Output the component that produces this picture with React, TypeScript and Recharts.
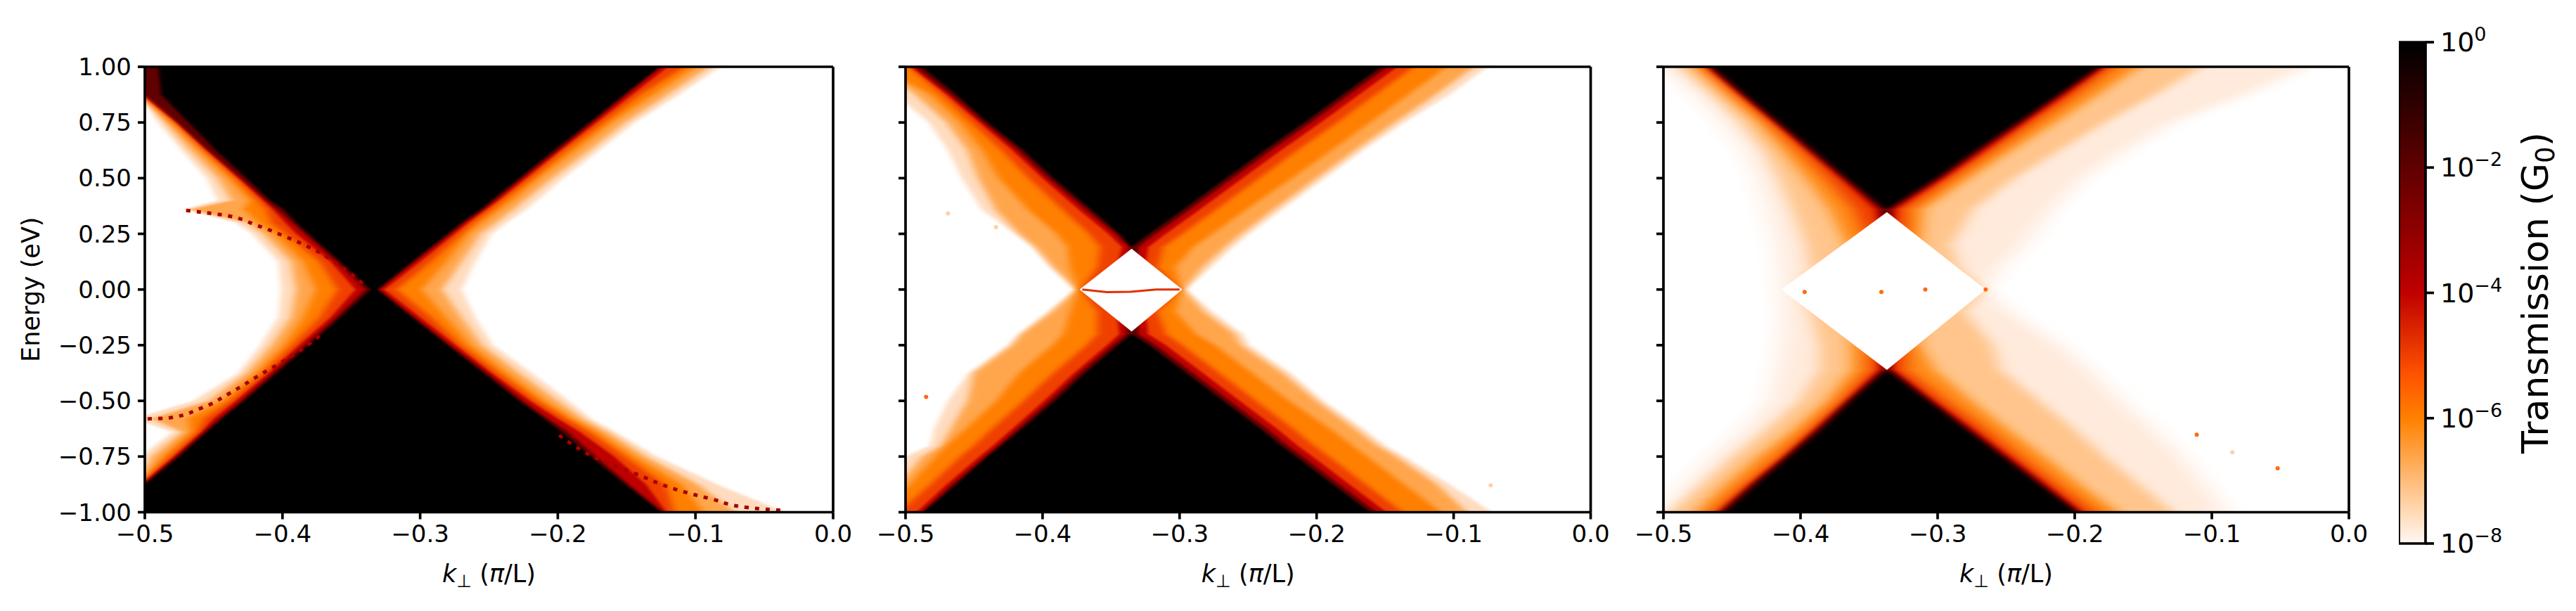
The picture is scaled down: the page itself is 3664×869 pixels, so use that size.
import React from 'react';
import { ComposedChart, Area, Line, Bar, XAxis, YAxis, ReferenceLine } from 'recharts';

const kTicks = [-0.5, -0.4, -0.3, -0.2, -0.1, 0];
const energyTicks = [-1, -0.75, -0.5, -0.25, 0, 0.25, 0.5, 0.75, 1];
const barTicks = [-8, -6, -4, -2, 0];
// Contour levels of the transmission, from faint to opaque
const levelColors = ['#ffdcc0', '#ffa64d', '#ff7f00', '#ef4000', '#bf0000', '#600000', '#000000'];
const softLevelColors = ['#ffeadb', '#ffc58c', '#ff8a14', '#ef4000', '#bf0000', '#600000', '#000000'];
const levelBlur = ['softC', 'softB', 'softB', 'softB', 'softA', 'softA', 'softA'];

// ---- panel 1: rows of energy; left edges go outer->inner, right edges inner->outer
const p1Energy = [1, 0.875, 0.75, 0.625, 0.5, 0.4, 0.36, 0.3, 0.25, 0.125, 0, -0.125, -0.25, -0.375, -0.5, -0.58, -0.64, -0.75, -0.875, -1];
const p1Left = [
  [-0.52, -0.52, -0.52, -0.52, -0.52, -0.51, -0.49],
  [-0.503, -0.503, -0.503, -0.502, -0.502, -0.5, -0.488],
  [-0.49, -0.485, -0.481, -0.478, -0.477, -0.476, -0.468],
  [-0.473, -0.467, -0.46, -0.457, -0.455, -0.454, -0.448],
  [-0.455, -0.447, -0.439, -0.434, -0.432, -0.43, -0.426],
  [-0.447, -0.437, -0.424, -0.418, -0.414, -0.412, -0.409],
  [-0.472, -0.467, -0.428, -0.412, -0.407, -0.404, -0.399],
  [-0.434, -0.426, -0.418, -0.408, -0.398, -0.393, -0.39],
  [-0.422, -0.414, -0.406, -0.398, -0.39, -0.384, -0.381],
  [-0.403, -0.394, -0.385, -0.373, -0.365, -0.361, -0.358],
  [-0.401, -0.39, -0.376, -0.36, -0.347, -0.34, -0.336],
  [-0.403, -0.394, -0.385, -0.373, -0.365, -0.361, -0.358],
  [-0.416, -0.408, -0.399, -0.393, -0.388, -0.384, -0.381],
  [-0.432, -0.426, -0.419, -0.414, -0.41, -0.407, -0.404],
  [-0.465, -0.454, -0.444, -0.438, -0.434, -0.43, -0.428],
  [-0.508, -0.495, -0.469, -0.457, -0.45, -0.446, -0.444],
  [-0.48, -0.473, -0.467, -0.462, -0.459, -0.457, -0.455],
  [-0.503, -0.495, -0.487, -0.482, -0.479, -0.477, -0.475],
  [-0.505, -0.505, -0.504, -0.504, -0.503, -0.501, -0.5],
  [-0.52, -0.52, -0.52, -0.52, -0.52, -0.52, -0.52],
];
const p1Right = [
  [-0.126, -0.125, -0.12, -0.108, -0.1, -0.09, -0.082],
  [-0.152, -0.15, -0.146, -0.14, -0.13, -0.12, -0.112],
  [-0.177, -0.175, -0.172, -0.167, -0.161, -0.151, -0.144],
  [-0.203, -0.2, -0.198, -0.194, -0.187, -0.177, -0.17],
  [-0.228, -0.226, -0.223, -0.219, -0.214, -0.204, -0.196],
  [-0.248, -0.246, -0.243, -0.24, -0.233, -0.224, -0.215],
  [-0.256, -0.254, -0.252, -0.248, -0.242, -0.232, -0.223],
  [-0.27, -0.268, -0.265, -0.261, -0.255, -0.245, -0.237],
  [-0.28, -0.278, -0.275, -0.27, -0.265, -0.256, -0.248],
  [-0.306, -0.304, -0.3, -0.292, -0.281, -0.27, -0.26],
  [-0.331, -0.33, -0.326, -0.317, -0.299, -0.284, -0.27],
  [-0.306, -0.304, -0.3, -0.292, -0.281, -0.27, -0.26],
  [-0.28, -0.278, -0.274, -0.27, -0.263, -0.255, -0.247],
  [-0.254, -0.251, -0.248, -0.243, -0.237, -0.228, -0.219],
  [-0.228, -0.225, -0.22, -0.215, -0.209, -0.2, -0.192],
  [-0.21, -0.207, -0.2, -0.194, -0.189, -0.182, -0.176],
  [-0.197, -0.192, -0.184, -0.177, -0.171, -0.164, -0.158],
  [-0.176, -0.172, -0.159, -0.151, -0.144, -0.136, -0.128],
  [-0.151, -0.148, -0.136, -0.122, -0.11, -0.098, -0.084],
  [-0.125, -0.123, -0.121, -0.115, -0.094, -0.071, -0.035],
];
const p1ArcUpper = [[-0.47, 0.355], [-0.445, 0.336], [-0.419, 0.289], [-0.4, 0.243], [-0.376, 0.176], [-0.353, 0.083], [-0.34, 0.017]];
const p1ArcLower = [[-0.498, -0.581], [-0.483, -0.577], [-0.46, -0.535], [-0.439, -0.468], [-0.416, -0.382], [-0.396, -0.309], [-0.373, -0.209]];
const p1ArcRight = [[-0.199, -0.654], [-0.166, -0.774], [-0.146, -0.821], [-0.113, -0.9], [-0.087, -0.943], [-0.061, -0.98], [-0.034, -0.993]];

// ---- panel 2
const p2Energy = [1, 0.875, 0.75, 0.625, 0.5, 0.356, 0.25, 0.19, 0.1, 0, -0.1, -0.2, -0.25, -0.375, -0.5, -0.625, -0.7, -0.75, -0.875, -1];
const p2Left = [
  [-0.52, -0.52, -0.52, -0.498, -0.496, -0.493, -0.488],
  [-0.507, -0.493, -0.482, -0.474, -0.47, -0.467, -0.463],
  [-0.483, -0.47, -0.46, -0.452, -0.446, -0.443, -0.44],
  [-0.469, -0.455, -0.444, -0.43, -0.422, -0.418, -0.414],
  [-0.459, -0.447, -0.432, -0.41, -0.4, -0.396, -0.392],
  [-0.444, -0.434, -0.41, -0.385, -0.373, -0.368, -0.364],
  [-0.42, -0.417, -0.39, -0.366, -0.352, -0.347, -0.344],
  [-0.407, -0.405, -0.382, -0.358, -0.342, -0.337, -0.335],
  [-0.394, -0.392, -0.38, -0.36, -0.346, -0.338, -0.335],
  [-0.375, -0.375, -0.374, -0.372, -0.35, -0.34, -0.335],
  [-0.396, -0.393, -0.38, -0.36, -0.346, -0.34, -0.335],
  [-0.417, -0.415, -0.385, -0.36, -0.344, -0.339, -0.335],
  [-0.425, -0.422, -0.393, -0.368, -0.353, -0.349, -0.345],
  [-0.454, -0.45, -0.417, -0.392, -0.377, -0.373, -0.369],
  [-0.469, -0.455, -0.434, -0.414, -0.399, -0.395, -0.391],
  [-0.479, -0.467, -0.456, -0.437, -0.422, -0.418, -0.415],
  [-0.482, -0.474, -0.47, -0.45, -0.436, -0.432, -0.43],
  [-0.5, -0.488, -0.478, -0.46, -0.446, -0.442, -0.44],
  [-0.512, -0.505, -0.497, -0.482, -0.47, -0.466, -0.463],
  [-0.52, -0.52, -0.52, -0.505, -0.492, -0.488, -0.487],
];
const p2Right = [
  [-0.153, -0.148, -0.141, -0.129, -0.105, -0.085, -0.075],
  [-0.181, -0.176, -0.169, -0.157, -0.133, -0.113, -0.103],
  [-0.209, -0.204, -0.197, -0.185, -0.161, -0.143, -0.136],
  [-0.238, -0.233, -0.226, -0.214, -0.189, -0.172, -0.166],
  [-0.266, -0.261, -0.254, -0.242, -0.218, -0.2, -0.194],
  [-0.298, -0.293, -0.286, -0.274, -0.252, -0.232, -0.226],
  [-0.322, -0.317, -0.31, -0.298, -0.276, -0.255, -0.249],
  [-0.335, -0.33, -0.323, -0.312, -0.29, -0.267, -0.261],
  [-0.335, -0.331, -0.325, -0.316, -0.303, -0.283, -0.277],
  [-0.335, -0.33, -0.32, -0.3, -0.299, -0.297, -0.296],
  [-0.335, -0.331, -0.325, -0.316, -0.303, -0.282, -0.276],
  [-0.335, -0.33, -0.323, -0.31, -0.288, -0.26, -0.254],
  [-0.322, -0.317, -0.31, -0.298, -0.274, -0.255, -0.249],
  [-0.295, -0.29, -0.283, -0.271, -0.247, -0.225, -0.219],
  [-0.268, -0.263, -0.256, -0.244, -0.22, -0.2, -0.195],
  [-0.241, -0.236, -0.229, -0.217, -0.19, -0.172, -0.166],
  [-0.226, -0.221, -0.214, -0.202, -0.174, -0.156, -0.15],
  [-0.215, -0.21, -0.203, -0.191, -0.163, -0.142, -0.136],
  [-0.188, -0.183, -0.176, -0.164, -0.136, -0.112, -0.103],
  [-0.161, -0.156, -0.149, -0.137, -0.109, -0.09, -0.072],
];
const p2GapEnergy = [0.183, 0, -0.189];
const p2GapEdges = [[-0.335, -0.335], [-0.373, -0.298], [-0.335, -0.335]];
const p2Streak = [[-0.371, 0], [-0.353, -0.012], [-0.336, -0.01], [-0.317, 0], [-0.3, 0]];
const p2SpecksStrong = [[-0.485, -0.482]];
const p2SpecksFaint = [[-0.469, 0.342], [-0.434, 0.28], [-0.073, -0.879]];

// ---- panel 3
const p3Energy = [1, 0.875, 0.75, 0.625, 0.5, 0.36, 0.2, 0.1, 0, -0.1, -0.25, -0.36, -0.5, -0.625, -0.75, -0.875, -1];
const p3Left = [
  [-0.502, -0.489, -0.477, -0.471, -0.468, -0.466, -0.464],
  [-0.477, -0.465, -0.455, -0.447, -0.444, -0.442, -0.44],
  [-0.457, -0.444, -0.431, -0.423, -0.419, -0.417, -0.415],
  [-0.441, -0.427, -0.413, -0.401, -0.395, -0.393, -0.39],
  [-0.431, -0.416, -0.396, -0.381, -0.371, -0.368, -0.366],
  [-0.424, -0.406, -0.379, -0.361, -0.346, -0.341, -0.338],
  [-0.417, -0.396, -0.366, -0.35, -0.34, -0.338, -0.337],
  [-0.415, -0.393, -0.366, -0.35, -0.343, -0.34, -0.337],
  [-0.414, -0.4, -0.366, -0.35, -0.343, -0.34, -0.337],
  [-0.413, -0.393, -0.366, -0.35, -0.343, -0.34, -0.337],
  [-0.414, -0.386, -0.363, -0.35, -0.343, -0.34, -0.337],
  [-0.417, -0.386, -0.363, -0.35, -0.343, -0.339, -0.337],
  [-0.423, -0.401, -0.381, -0.371, -0.367, -0.365, -0.363],
  [-0.441, -0.424, -0.404, -0.393, -0.389, -0.387, -0.384],
  [-0.465, -0.449, -0.431, -0.416, -0.412, -0.41, -0.408],
  [-0.485, -0.472, -0.455, -0.441, -0.437, -0.435, -0.432],
  [-0.503, -0.495, -0.477, -0.465, -0.46, -0.458, -0.455],
];
const p3Right = [
  [-0.183, -0.181, -0.178, -0.171, -0.153, -0.108, -0.029],
  [-0.212, -0.211, -0.206, -0.199, -0.183, -0.141, -0.075],
  [-0.242, -0.24, -0.236, -0.229, -0.214, -0.178, -0.128],
  [-0.272, -0.27, -0.265, -0.259, -0.246, -0.211, -0.163],
  [-0.301, -0.299, -0.295, -0.289, -0.277, -0.244, -0.194],
  [-0.337, -0.335, -0.33, -0.322, -0.31, -0.274, -0.217],
  [-0.337, -0.336, -0.333, -0.323, -0.313, -0.29, -0.237],
  [-0.337, -0.336, -0.333, -0.323, -0.313, -0.284, -0.254],
  [-0.337, -0.336, -0.333, -0.323, -0.313, -0.267, -0.265],
  [-0.337, -0.336, -0.333, -0.323, -0.313, -0.28, -0.247],
  [-0.337, -0.336, -0.333, -0.323, -0.313, -0.26, -0.211],
  [-0.337, -0.335, -0.332, -0.323, -0.302, -0.254, -0.189],
  [-0.307, -0.305, -0.302, -0.293, -0.275, -0.226, -0.166],
  [-0.28, -0.278, -0.274, -0.265, -0.249, -0.201, -0.143],
  [-0.253, -0.251, -0.247, -0.239, -0.222, -0.178, -0.122],
  [-0.226, -0.224, -0.22, -0.212, -0.196, -0.153, -0.105],
  [-0.199, -0.197, -0.194, -0.184, -0.168, -0.128, -0.09],
];
const p3GapEnergy = [0.347, 0, -0.361];
const p3GapEdges = [[-0.337, -0.337], [-0.414, -0.265], [-0.337, -0.337]];
const p3SpecksStrong = [[-0.397, -0.011], [-0.341, -0.011], [-0.309, 0], [-0.265, 0], [-0.111, -0.652], [-0.052, -0.803]];
const p3SpecksFaint = [[-0.085, -0.731]];

type Pair = number[];
const toPoints = (pairs: Pair[]) => pairs.map(([k, e]) => ({ k, e }));
const fmtE = (v: number) => (v < 0 ? '\u2212' : '') + Math.abs(v).toFixed(2);
const fmtK = (v: number) => (v < 0 ? '\u2212' : '') + Math.abs(v).toFixed(1);
const FONT = '"DejaVu Sans"';
const SPINE = 3.7;

function buildRows(energy: number[], left: number[][], right: number[][]) {
  return energy.map((e, i) => {
    const row: Record<string, unknown> = { e };
    levelColors.forEach((_, l) => {
      row['band' + l] = [left[i][l], right[i][6 - l]];
    });
    return row;
  });
}

const XLabel = ({ viewBox }: any) => (
  <text x={viewBox.x + viewBox.width / 2} y={viewBox.y + 99} textAnchor="middle" fontSize={35} fontFamily={FONT} fill="#000">
    <tspan fontStyle="italic">k</tspan>
    <tspan dy={7} fontSize={25}>{'\u22a5'}</tspan>
    <tspan dy={-7}> (</tspan>
    <tspan fontStyle="italic">{'\u03c0'}</tspan>
    <tspan>/L)</tspan>
  </text>
);

const YLabel = ({ viewBox }: any) => (
  <text
    transform={`translate(40,${viewBox.y + viewBox.height / 2}) rotate(-90)`}
    textAnchor="middle"
    fontSize={35}
    fontFamily={FONT}
    fill="#000"
  >
    Energy (eV)
  </text>
);

type PanelProps = {
  left: number;
  plotWidth: number;
  energy: number[];
  lefts: number[][];
  rights: number[][];
  showY: boolean;
  gapEnergy?: number[];
  gapEdges?: number[][];
  arcs?: Pair[][];
  streak?: Pair[];
  specksStrong?: Pair[];
  specksFaint?: Pair[];
  softness: string;
  palette: string[];
};

function Panel(p: PanelProps) {
  const rows = buildRows(p.energy, p.lefts, p.rights);
  const gapRows = p.gapEnergy ? p.gapEnergy.map((e, i) => ({ e, gap: p.gapEdges![i] })) : null;
  const yW = 190;
  const rightPad = 50;
  const topPad = 30;
  return (
    <div style={{ position: 'absolute', left: p.left - yW, top: 94.5 - topPad }} className={p.softness}>
      <ComposedChart
        layout="vertical"
        width={yW + p.plotWidth + rightPad}
        height={topPad + 633.5 + 130}
        data={rows}
        margin={{ top: topPad, right: rightPad, bottom: 0, left: 0 }}
      >
        {p.palette.map((c, l) => (
          <Area
            key={l}
            className={levelBlur[l]}
            dataKey={'band' + l}
            type="linear"
            fill={c}
            fillOpacity={1}
            stroke="none"
            dot={false}
            activeDot={false}
            isAnimationActive={false}
          />
        ))}
        {gapRows && (
          <Area data={gapRows} dataKey="gap" type="linear" fill="#ffffff" fillOpacity={1} stroke="none" dot={false} activeDot={false} isAnimationActive={false} />
        )}
        {p.arcs &&
          p.arcs.map((arc, i) => (
            <Line key={i} data={toPoints(arc)} dataKey="k" type="monotone" stroke="#a80000" strokeWidth={5} strokeDasharray="6 9" dot={false} activeDot={false} isAnimationActive={false} />
          ))}
        {p.streak && (
          <Line data={toPoints(p.streak)} dataKey="k" type="linear" stroke="#e03000" strokeWidth={3} dot={false} activeDot={false} isAnimationActive={false} />
        )}
        {p.specksStrong && (
          <Line data={toPoints(p.specksStrong)} dataKey="k" stroke="none" dot={{ r: 3, fill: '#ff6a10', stroke: 'none' }} activeDot={false} isAnimationActive={false} />
        )}
        {p.specksFaint && (
          <Line data={toPoints(p.specksFaint)} dataKey="k" stroke="none" dot={{ r: 3, fill: '#ffd0a8', stroke: 'none' }} activeDot={false} isAnimationActive={false} />
        )}
        <XAxis
          type="number"
          domain={[-0.5, 0]}
          ticks={kTicks}
          allowDataOverflow
          tickFormatter={fmtK}
          interval={0}
          height={130}
          tickSize={10}
          tickMargin={8}
          tick={{ fontSize: 34, fill: '#000', fontFamily: FONT }}
          tickLine={{ stroke: '#000', strokeWidth: SPINE }}
          axisLine={{ stroke: '#000', strokeWidth: SPINE }}
          label={<XLabel />}
        />
        <YAxis
          type="number"
          dataKey="e"
          reversed
          domain={[-1, 1]}
          ticks={energyTicks}
          allowDataOverflow
          interval={0}
          width={yW}
          tickFormatter={p.showY ? fmtE : () => ''}
          tickSize={10}
          tickMargin={9}
          tick={{ fontSize: 34, fill: '#000', fontFamily: FONT }}
          tickLine={{ stroke: '#000', strokeWidth: SPINE }}
          axisLine={{ stroke: '#000', strokeWidth: SPINE }}
          label={p.showY ? <YLabel /> : undefined}
        />
        <ReferenceLine x={0} stroke="#000" strokeWidth={SPINE} />
        <ReferenceLine y={1} stroke="#000" strokeWidth={SPINE} />
      </ComposedChart>
    </div>
  );
}

const barData = [{ name: 'T', span: [-8, 0] }];

const BarTick = ({ x, y, payload }: any) => (
  <text x={x} y={y + 13} fontSize={38} fontFamily={FONT} fill="#000">
    <tspan>10</tspan>
    <tspan dy={-15} fontSize={27}>{payload.value === 0 ? '0' : '\u2212' + Math.abs(payload.value)}</tspan>
  </text>
);

const BarLabel = ({ viewBox }: any) => (
  <text
    transform={`translate(${viewBox.x + 174},${viewBox.y + viewBox.height / 2}) rotate(-90)`}
    textAnchor="middle"
    fontSize={52}
    fontFamily={FONT}
    fill="#000"
  >
    <tspan>Transmission (G</tspan>
    <tspan dy={9} fontSize={37}>0</tspan>
    <tspan dy={-9}>)</tspan>
  </text>
);

function ColorBar() {
  return (
    <div style={{ position: 'absolute', left: 3412, top: 20 }}>
      <ComposedChart width={252} height={793} data={barData} margin={{ top: 40, right: 0, bottom: 40, left: 0 }} barCategoryGap={0}>
        <defs>
          <linearGradient id="heat" x1="0" y1="0" x2="0" y2="1">
            <stop offset="0" stopColor="#000000" />
            <stop offset="0.5" stopColor="#bf0000" />
            <stop offset="0.667" stopColor="#ff5500" />
            <stop offset="0.75" stopColor="#ff8000" />
            <stop offset="1" stopColor="#fff8f2" />
          </linearGradient>
        </defs>
        <XAxis dataKey="name" type="category" hide />
        <YAxis
          orientation="right"
          type="number"
          domain={[-8, 0]}
          ticks={barTicks}
          interval={0}
          width={214}
          tickSize={12}
          tickMargin={9}
          tick={<BarTick />}
          tickLine={{ stroke: '#000', strokeWidth: SPINE }}
          axisLine={false}
          label={<BarLabel />}
        />
        <Bar dataKey="span" fill="url(#heat)" stroke="#000" strokeWidth={SPINE} isAnimationActive={false} />
      </ComposedChart>
    </div>
  );
}

export default function App() {
  return (
    <div style={{ position: 'absolute', left: 0, top: 0, width: 3664, height: 869, background: '#fff', overflow: 'hidden' }}>
      <style>{`
        .softA .recharts-area-area { filter: url(#blurA); }
        .softB .recharts-area-area { filter: url(#blurB); }
        .softC .recharts-area-area { filter: url(#blurC); }
        .panel3 .softA .recharts-area-area { filter: url(#blurB); }
        .panel3 .softB .recharts-area-area { filter: url(#blurE); }
        .panel3 .softC .recharts-area-area { filter: url(#blurD); }
      `}</style>
      <svg width={0} height={0} style={{ position: 'absolute' }}>
        <defs>
          <filter id="blurA" x="-5%" y="0" width="110%" height="100%"><feGaussianBlur stdDeviation="2.5 0" /></filter>
          <filter id="blurB" x="-5%" y="0" width="110%" height="100%"><feGaussianBlur stdDeviation="6 0" /></filter>
          <filter id="blurC" x="-5%" y="0" width="110%" height="100%"><feGaussianBlur stdDeviation="4 0" /></filter>
          <filter id="blurD" x="-5%" y="0" width="110%" height="100%"><feGaussianBlur stdDeviation="18 0" /></filter>
          <filter id="blurE" x="-5%" y="0" width="110%" height="100%"><feGaussianBlur stdDeviation="11 0" /></filter>
        </defs>
      </svg>
      <Panel left={206} plotWidth={979} energy={p1Energy} lefts={p1Left} rights={p1Right} showY arcs={[p1ArcUpper, p1ArcLower, p1ArcRight]} softness="panel1" palette={levelColors} />
      <Panel left={1287.5} plotWidth={974.5} energy={p2Energy} lefts={p2Left} rights={p2Right} showY={false} gapEnergy={p2GapEnergy} gapEdges={p2GapEdges} streak={p2Streak} specksStrong={p2SpecksStrong} specksFaint={p2SpecksFaint} softness="panel2" palette={levelColors} />
      <Panel left={2366} plotWidth={975} energy={p3Energy} lefts={p3Left} rights={p3Right} showY={false} gapEnergy={p3GapEnergy} gapEdges={p3GapEdges} specksStrong={p3SpecksStrong} specksFaint={p3SpecksFaint} softness="panel3" palette={softLevelColors} />
      <ColorBar />
    </div>
  );
}
